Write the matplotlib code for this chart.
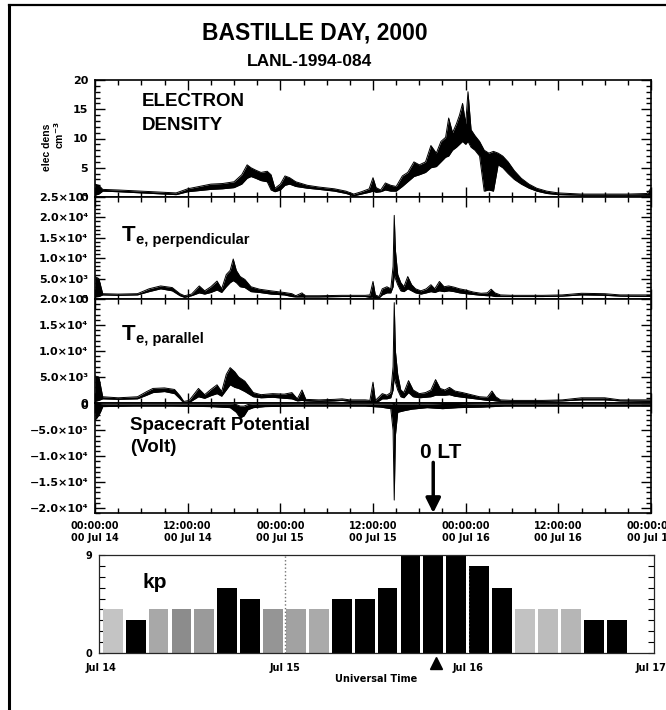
import matplotlib
matplotlib.use("Agg")
import matplotlib.pyplot as plt
import numpy as np
from matplotlib.ticker import MultipleLocator, FixedLocator, FuncFormatter
from matplotlib.lines import Line2D

plt.rcParams.update({
    "font.family": ["DejaVu Sans"],
    "font.weight": "bold",
    "font.size": 8,
    "axes.linewidth": 1.2,
})

# ---------------- data (hours from 00:00 UT Jul 14, 2000) ----------------
dens_t = [0.0, 0.5, 1.0, 3.0, 6.0, 9.0, 10.5, 12.0, 13.5, 15.0, 16.5, 18.0, 19.0, 19.7,
          20.2, 20.8, 21.5, 22.3, 22.8, 23.3, 24.0, 24.6, 25.2, 26.0, 27.5, 29.0, 31.0,
          32.5, 33.5, 34.5, 35.5, 36.0, 36.4, 37.0, 37.6, 38.3, 39.0, 39.8, 40.5, 41.3,
          42.0, 42.8, 43.5, 44.2, 44.8, 45.4, 45.8, 46.3, 46.8, 47.2, 47.6, 48.0, 48.3,
          48.7, 49.2, 49.8, 50.4, 51.0, 51.6, 52.2, 52.8, 53.5, 54.3, 55.2, 56.2, 57.2,
          58.5, 60.0, 63.0, 66.0, 69.0, 71.5, 72.0]
dens_hi = [2.2, 2.0, 1.3, 1.2, 1.0, 0.8, 0.7, 1.4, 1.8, 2.2, 2.3, 2.6, 3.8, 5.5,
           5.0, 4.6, 4.2, 4.4, 3.8, 1.5, 2.2, 3.6, 3.3, 2.6, 2.0, 1.7, 1.4,
           1.0, 0.5, 0.9, 1.4, 3.3, 1.6, 1.2, 2.4, 2.0, 1.8, 3.6, 4.2, 6.0,
           5.5, 6.0, 8.8, 7.5, 9.5, 10.2, 13.5, 11.0, 12.5, 14.0, 16.0, 12.5, 18.0,
           11.5, 10.5, 9.5, 8.0, 7.5, 7.8, 7.5, 7.0, 6.0, 4.5, 3.2, 2.2, 1.5,
           1.0, 0.7, 0.5, 0.5, 0.5, 0.6, 1.5]
dens_lo = [0.3, 0.5, 1.0, 0.9, 0.7, 0.5, 0.4, 0.9, 1.1, 1.3, 1.4, 1.6, 2.2, 3.2,
           3.5, 3.2, 2.8, 2.6, 1.2, 0.9, 1.2, 2.0, 2.2, 1.8, 1.5, 1.3, 1.0,
           0.6, 0.2, 0.5, 0.8, 1.0, 0.8, 0.9, 1.2, 1.0, 1.0, 1.8, 2.6, 3.5,
           3.8, 4.2, 5.0, 5.2, 6.0, 6.8, 7.0, 8.0, 8.5, 9.0, 9.5, 9.0, 9.5,
           8.5, 8.0, 7.0, 1.0, 1.2, 1.0, 5.5, 5.0, 4.0, 3.0, 2.2, 1.5, 1.0,
           0.6, 0.4, 0.3, 0.3, 0.3, 0.3, 0.3]

# electron temperature, perpendicular (units of 10^3)
tperp_t = [0, 0.5, 1.0, 3, 5.5, 7, 8.5, 10, 11, 11.6, 12.5, 13.5, 14.2, 15, 15.8, 16.4,
           17.0, 17.5, 17.9, 18.3, 18.8, 19.4, 20.2, 21.3, 22.8, 24.5, 25.5, 26.0, 26.8,
           27.2, 29, 32, 35.0, 35.6, 36.0, 36.3, 36.8, 37.2, 37.8, 38.3, 38.6, 38.75,
           38.9, 39.2, 39.6, 40.0, 40.5, 41.0, 41.5, 42.2, 42.9, 43.5, 44.0, 44.6, 45.2,
           45.8, 46.5, 47.2, 48.0, 49.0, 50.0, 50.8, 51.3, 51.8, 52.5, 54, 58, 60.5, 63,
           66, 68, 72]
tperp_hi = [5.5, 5.0, 1.3, 1.2, 1.3, 2.5, 3.2, 2.8, 1.3, 0.8, 1.2, 3.2, 2.0, 3.0, 4.4, 2.5,
            6.0, 7.0, 9.8, 7.0, 5.5, 4.8, 3.0, 2.4, 2.0, 1.6, 1.3, 0.8, 1.5,
            0.8, 0.8, 0.9, 0.9, 1.0, 4.3, 1.0, 0.6, 2.5, 3.0, 2.5, 8.0, 20.5,
            12.0, 6.0, 4.0, 3.0, 5.5, 3.5, 2.5, 2.0, 2.5, 3.5, 2.5, 4.3, 3.0,
            3.2, 2.9, 2.5, 2.2, 1.7, 1.4, 1.5, 2.4, 1.5, 1.0, 0.9, 0.9, 1.0, 1.4,
            1.3, 1.0, 1.0]
tperp_lo = [0.5, 0.6, 1.0, 0.9, 1.0, 1.8, 2.5, 2.0, 0.8, 0.4, 0.8, 1.5, 1.2, 1.6, 2.2, 1.6,
            3.0, 4.0, 4.5, 4.0, 3.0, 2.8, 1.8, 1.6, 1.2, 1.0, 0.6, 0.5, 0.5,
            0.5, 0.5, 0.6, 0.6, 0.4, 0.5, 0.2, 0.3, 1.0, 1.5, 1.5, 3.0, 6.0,
            5.0, 3.5, 2.0, 1.8, 2.5, 2.0, 1.5, 1.2, 1.5, 1.8, 1.6, 2.0, 1.8,
            2.0, 1.8, 1.5, 1.3, 1.1, 0.9, 0.8, 0.8, 0.6, 0.6, 0.6, 0.6, 0.7, 1.0,
            0.9, 0.7, 0.6]

# electron temperature, parallel (units of 10^3)
tpar_t = [0, 0.5, 1.0, 3, 5.5, 6.7, 7.5, 9, 10.3, 11, 11.5, 12.2, 13.4, 14.2, 15, 15.8,
          16.4, 17.0, 17.5, 18.1, 18.6, 19.4, 20.5, 21.5, 23, 24.5, 25.5, 26.2, 26.8,
          27.3, 29, 31, 32, 33, 35.0, 35.6, 36.0, 36.3, 36.8, 37.2, 37.8, 38.3, 38.6,
          38.75, 38.9, 39.2, 39.6, 40.0, 40.6, 41.2, 42.0, 42.8, 43.5, 44.1, 44.7, 45.3,
          45.9, 46.6, 47.6, 48.7, 49.8, 50.8, 51.4, 51.9, 52.5, 54, 58, 60.5, 63, 66,
          68, 72]
tpar_hi = [5.2, 5.0, 1.2, 1.0, 1.2, 2.2, 2.8, 2.9, 2.6, 1.4, 0.3, 0.5, 2.8, 1.6, 2.6, 3.5,
           2.2, 5.5, 6.8, 6.0, 5.0, 4.2, 2.0, 1.6, 1.8, 1.7, 2.0, 0.8, 2.5,
           0.7, 0.6, 0.7, 0.8, 0.6, 0.6, 0.5, 4.0, 0.5, 1.2, 1.8, 1.5, 2.0, 7.0,
           19.3, 10.0, 5.5, 2.5, 2.0, 4.3, 2.5, 1.8, 2.0, 2.5, 4.5, 2.8, 2.5,
           3.0, 2.3, 2.0, 1.6, 1.2, 1.1, 2.3, 1.2, 0.6, 0.5, 0.5, 0.6, 1.0, 1.0,
           0.6, 0.6]
tpar_lo = [0.3, 0.5, 0.8, 0.7, 0.8, 1.5, 2.0, 2.2, 1.8, 0.8, 0.0, 0.1, 1.2, 0.9, 1.4, 1.8,
           1.3, 2.5, 3.5, 3.0, 2.8, 2.2, 1.2, 1.0, 1.1, 0.9, 0.8, 0.4, 0.5,
           0.4, 0.3, 0.4, 0.5, 0.3, 0.3, 0.1, 0.3, 0.0, 0.4, 0.8, 0.8, 1.0, 2.5,
           5.0, 4.0, 2.5, 1.2, 1.0, 2.0, 1.2, 1.0, 1.1, 1.2, 1.5, 1.5, 1.5,
           1.6, 1.3, 1.1, 0.9, 0.7, 0.5, 0.5, 0.4, 0.3, 0.3, 0.3, 0.4, 0.6, 0.6,
           0.4, 0.3]

# spacecraft potential (units of 10^3 V)
pot_t = [0, 0.3, 0.7, 1.0, 5, 10, 15, 17.5, 18.3, 18.8, 19.3, 19.8, 20.5, 22, 26, 30, 35,
         37, 38.3, 38.6, 38.75, 38.9, 39.2, 40, 41, 43, 45, 47, 50, 53, 60, 72]
pot_hi = [0.2, 0.2, 0.2, 0.1, 0.1, 0.1, 0.1, 0.1, 0.0, -0.3, -0.3, 0.0, 0.1, 0.1, 0.1, 0.1,
          0.1, 0.1, 0.1, 0.2, 0.2, 0.1, 0.1, 0.1, 0.1, 0.1, 0.2, 0.2, 0.1, 0.1, 0.1, 0.1]
pot_lo = [-3.0, -2.5, -1.5, -0.4, -0.3, -0.3, -0.4, -0.6, -1.5, -2.6, -2.2, -1.0, -0.6,
          -0.4, -0.3, -0.3, -0.3, -0.5, -0.8, -5.0, -18.5, -6.0, -1.5, -1.2, -0.9, -0.6,
          -0.8, -0.6, -0.5, -0.3, -0.3, -0.3]

# Kp index, 3-hour bins starting Jul 14 00 UT
kp_vals = [4, 3, 4, 4, 4, 6, 5, 4,
           4, 4, 5, 5, 6, 9, 9, 9,
           8, 6, 4, 4, 4, 3, 3, 0]
kp_colors = ["#c4c4c4", "black", "#a8a8a8", "#8c8c8c", "#9a9a9a", "black", "black", "#959595",
             "#a2a2a2", "#aaaaaa", "black", "black", "black", "black", "black", "black",
             "black", "black", "#c2c2c2", "#bcbcbc", "#b6b6b6", "black", "black", "white"]

time_ticks = [0, 12, 24, 36, 48, 60, 72]
kp_day_ticks = [0, 24, 48, 72]
kp_day_labels = ["Jul 14", "Jul 15", "Jul 16", "Jul 17"]
lt_midnight = 43.8   # 0 LT marker (hours)

# ---------------- layout helpers ----------------
W, H = 666, 710
fig = plt.figure(figsize=(W / 100, H / 100), dpi=100)


def rect(l, t, r, b):
    return [l / W, 1 - b / H, (r - l) / W, (b - t) / H]


def ptxt(x, y, s, **kw):
    return fig.text(x / W, 1 - y / H, s, **kw)


BIG = ["Liberation Sans", "DejaVu Sans"]

ax1 = fig.add_axes(rect(95, 80, 651, 197))
ax2 = fig.add_axes(rect(95, 197, 651, 299))
ax3 = fig.add_axes(rect(95, 299, 651, 403))
ax4 = fig.add_axes(rect(95, 403, 651, 513))
axk = fig.add_axes(rect(99, 555, 654, 653))

SUP = str.maketrans("0123456789-", "⁰¹²³⁴⁵⁶⁷⁸⁹⁻")


def sci_fmt(v, pos):
    if abs(v) < 1e-9:
        return "0"
    e = int(np.floor(np.log10(abs(v))))
    m = v / 10 ** e
    s = f"{abs(m):.1f}×10{str(e).translate(SUP)}"
    return ("\u2212" + s) if v < 0 else s


def trace(ax, t, hi, lo, scale=1.0):
    t = np.asarray(t)
    hi = np.asarray(hi) * scale
    lo = np.asarray(lo) * scale
    ax.fill_between(t, lo, hi, color="black", lw=0)
    ax.plot(t, hi, color="black", lw=0.7)
    ax.plot(t, lo, color="black", lw=0.7)


def style_upper(ax, ylim, major, minor, fmt=None):
    ax.set_xlim(0, 72)
    ax.set_ylim(*ylim)
    ax.xaxis.set_major_locator(FixedLocator(time_ticks))
    ax.xaxis.set_minor_locator(MultipleLocator(3))
    ax.yaxis.set_major_locator(MultipleLocator(major))
    ax.yaxis.set_minor_locator(MultipleLocator(minor))
    if fmt is not None:
        ax.yaxis.set_major_formatter(FuncFormatter(fmt))
    ax.tick_params(which="both", direction="in", top=True, right=True, width=1.0,
                   labelbottom=False)
    ax.tick_params(which="major", length=7)
    ax.tick_params(which="minor", length=3.5)
    ax.tick_params(axis="y", pad=5, labelsize=8)


trace(ax1, dens_t, dens_hi, dens_lo)
style_upper(ax1, (0, 20), 5, 1)
trace(ax2, tperp_t, tperp_hi, tperp_lo, 1e3)
style_upper(ax2, (0, 2.5e4), 5e3, 1e3, sci_fmt)
trace(ax3, tpar_t, tpar_hi, tpar_lo, 1e3)
style_upper(ax3, (0, 2.0e4), 5e3, 1e3, sci_fmt)
trace(ax4, pot_t, pot_hi, pot_lo, 1e3)
style_upper(ax4, (-2.1e4, 300), 5e3, 1e3, sci_fmt)


def time_fmt(t, pos):
    h = int(round(t))
    return f"{h % 24:02d}:00:00\n00 Jul {14 + h // 24}"


ax4.xaxis.set_major_formatter(FuncFormatter(time_fmt))
ax4.tick_params(axis="x", labelbottom=True, labelsize=7, pad=6)

# 0 LT arrow
ax4.annotate("", xy=(lt_midnight, -2.1e4), xytext=(lt_midnight, -1.12e4),
             arrowprops=dict(arrowstyle="-|>", color="black", lw=2.5, mutation_scale=22,
                             shrinkA=0, shrinkB=0))
ax4.text(lt_midnight + 1.0, -9.2e3, "0 LT", ha="center", va="center", fontsize=15,
         family=BIG, weight="bold")

# ---------------- Kp panel ----------------
slots = np.arange(len(kp_vals))
axk.bar(slots * 3 + 0.2, kp_vals, width=2.6, align="edge", color=kp_colors, lw=0, zorder=2)
axk.set_xlim(-0.3, 72.4)
axk.set_ylim(0, 9)
axk.yaxis.set_major_locator(FixedLocator([0, 9]))
axk.yaxis.set_minor_locator(MultipleLocator(1))
axk.tick_params(axis="y", which="both", direction="in", right=True, length=4, width=0.8,
                labelsize=7, pad=5)
axk.set_xticks(kp_day_ticks)
axk.set_xticklabels(kp_day_labels)
axk.tick_params(axis="x", length=0, labelsize=7, pad=7)
axk.axvline(24, color="0.45", ls=":", lw=1.0, zorder=3)
axk.axvline(48, color="white", ls=":", lw=1.0, zorder=3)
for s in axk.spines.values():
    s.set_linewidth(0.9)
    s.set_color("0.15")
axk.plot([lt_midnight], [-0.9], marker="^", ms=8, color="black", clip_on=False, zorder=5)
ptxt(376, 679, "Universal Time", ha="center", va="center", fontsize=7)
ptxt(155, 582, "kp", ha="center", va="center", fontsize=15, family=BIG, weight="bold")

# ---------------- text ----------------
ptxt(315, 33, "BASTILLE DAY, 2000", ha="center", va="center", fontsize=16.5, family=BIG,
     weight="bold")
ptxt(310, 62, "LANL-1994-084", ha="center", va="center", fontsize=12.5, family=BIG,
     weight="bold")
ptxt(142, 101, "ELECTRON", ha="left", va="center", fontsize=13.5, family=BIG, weight="bold")
ptxt(142, 126, "DENSITY", ha="left", va="center", fontsize=13.5, family=BIG, weight="bold")
ptxt(47, 147, "elec dens", ha="center", va="center", rotation=90, fontsize=7.5,
     family=BIG, weight="bold")
ptxt(59, 135, "cm$^{-3}$", ha="center", va="center", rotation=90, fontsize=7.5,
     family=BIG, weight="bold")

ptxt(122, 241, "T", ha="left", va="baseline", fontsize=16, family=BIG, weight="bold")
ptxt(136, 244, "e, perpendicular", ha="left", va="baseline", fontsize=10.5, family=BIG,
     weight="bold")
ptxt(122, 340, "T", ha="left", va="baseline", fontsize=16, family=BIG, weight="bold")
ptxt(136, 343, "e, parallel", ha="left", va="baseline", fontsize=10.5, family=BIG,
     weight="bold")
ptxt(130, 426, "Spacecraft Potential", ha="left", va="center", fontsize=13.5, family=BIG,
     weight="bold")
ptxt(130, 447, "(Volt)", ha="left", va="center", fontsize=13.5, family=BIG, weight="bold")

# outer frame (top and left edges)
fig.add_artist(Line2D([9 / W, 9 / W], [0, 1 - 5 / H], transform=fig.transFigure,
                      color="black", lw=2.2))
fig.add_artist(Line2D([9 / W, 1], [1 - 5 / H, 1 - 5 / H], transform=fig.transFigure,
                      color="black", lw=1.6))

fig.savefig("out.png", dpi=100, facecolor="white")
